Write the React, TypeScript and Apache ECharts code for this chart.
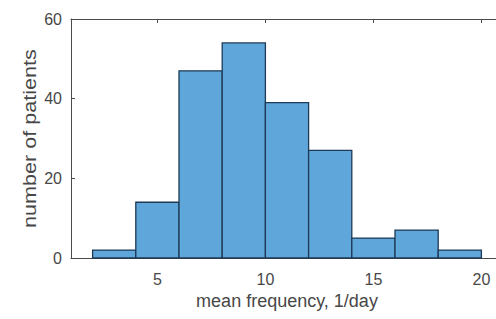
import React, { useEffect, useRef } from "react";
import * as echarts from "echarts";

const binStarts = [2, 4, 6, 8, 10, 12, 14, 16, 18];
const binWidth = 2;
const counts = [2, 14, 47, 54, 39, 27, 5, 7, 2];
const xTickValues = [5, 10, 15, 20];
const xLabel = "mean frequency, 1/day";
const yLabel = "number of patients";

const axisColor = "#4a4a4a";
const textColor = "#474747";

export default function App() {
  const ref = useRef<HTMLDivElement>(null);
  useEffect(() => {
    if (!ref.current) return;
    const chart = echarts.init(ref.current, null, { renderer: "svg" });
    const data = binStarts.map((s, i) => [s, s + binWidth, counts[i]]);
    const font = "Liberation Sans, Arial, Helvetica, sans-serif";
    chart.setOption({
      animation: false,
      backgroundColor: "#ffffff",
      grid: { left: 71, top: 19, width: 432, height: 239, containLabel: false, outerBoundsMode: "none" },
      graphic: [
        {
          type: "text",
          x: 30,
          y: 138.5,
          rotation: Math.PI / 2,
          scaleX: 1.2,
          style: {
            text: yLabel,
            fill: textColor,
            fontSize: 18,
            fontFamily: font,
            align: "center",
            verticalAlign: "middle",
          },
        },
      ],
      xAxis: [
        {
          type: "value",
          min: 1,
          max: 21,
          position: "bottom",
          name: xLabel,
          nameLocation: "middle",
          nameGap: 31,
          nameTextStyle: { color: textColor, fontSize: 18, fontFamily: font },
          axisLine: { show: true, lineStyle: { color: axisColor, width: 1 } },
          axisTick: { show: true, inside: true, length: 4, customValues: xTickValues, lineStyle: { color: axisColor } },
          axisLabel: { show: true, customValues: xTickValues, color: textColor, fontSize: 16, fontFamily: font, margin: 13 },
          splitLine: { show: false },
        },
        {
          type: "value",
          min: 1,
          max: 21,
          position: "top",
          axisLine: { show: true, onZero: false, lineStyle: { color: axisColor, width: 1 } },
          axisTick: { show: true, inside: true, length: 4, customValues: xTickValues, lineStyle: { color: axisColor } },
          axisLabel: { show: false },
          splitLine: { show: false },
        },
      ],
      yAxis: {
        type: "value",
        min: 0,
        max: 60,
        interval: 20,
        axisLine: { show: true, lineStyle: { color: axisColor, width: 1 } },
        axisTick: { show: true, inside: true, length: 4, lineStyle: { color: axisColor } },
        axisLabel: { color: textColor, fontSize: 16, fontFamily: font, margin: 9 },
        splitLine: { show: false },
      },
      series: [
        {
          type: "custom",
          xAxisIndex: 0,
          yAxisIndex: 0,
          encode: { x: [0, 1], y: 2 },
          data,
          renderItem: (params: any, api: any) => {
            const x0 = api.value(0);
            const x1 = api.value(1);
            const y = api.value(2);
            const p0 = api.coord([x0, y]);
            const p1 = api.coord([x1, 0]);
            return {
              type: "rect",
              shape: { x: p0[0], y: p0[1], width: p1[0] - p0[0], height: p1[1] - p0[1] },
              style: { fill: "#5fa6da", stroke: "#1e3a56", lineWidth: 1.3 },
            };
          },
        },
      ],
    });
    return () => chart.dispose();
  }, []);
  return (
    <div
      ref={ref}
      style={{ position: "fixed", left: 0, top: 0, width: 496, height: 319, overflow: "hidden" }}
    />
  );
}
